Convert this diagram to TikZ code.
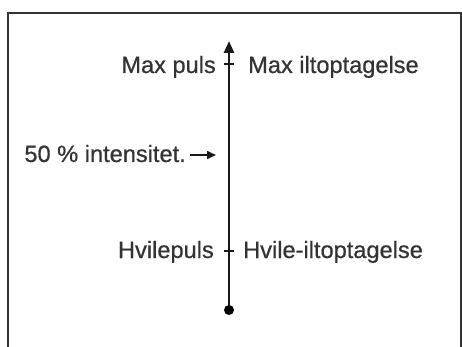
\documentclass[tikz,border=0pt]{standalone}
\usepackage{fontspec}
\setmainfont{Liberation Sans}
\newfontfamily\labelfont{Liberation Sans}[FakeBold=0.6]
\usetikzlibrary{arrows.meta}
\tikzset{
  lbl/.style={inner sep=0pt, font=\labelfont\fontsize{23.6}{27}\selectfont, text=black!80},
  axisline/.style={line width=2.6pt, black!90},
  tickmark/.style={line width=1.6pt, black!90},
  frameline/.style={line width=2.6pt, black!80},
}
\begin{document}
\begin{tikzpicture}[x=1pt, y=-1pt]
  \useasboundingbox (0,0) rectangle (462,347);
  \fill[white] (0,0) rectangle (462,347);
  \clip (0,0) rectangle (462,347);
  % open-bottom frame
  \draw[frameline] (8,360) -- (8,13) -- (461,13) -- (461,360);
  % vertical scale
  \coordinate (bot) at (229,310);
  \coordinate (top) at (229,41);
  \coordinate (tmax) at (229,64);
  \coordinate (trest) at (229,251);
  \draw[axisline, -{Triangle[width=10pt,length=12pt]}] (bot) -- (top);
  \fill[black] (bot) circle (5pt);
  \draw[tickmark] ([xshift=-5pt]tmax) -- ([xshift=5pt]tmax);
  \draw[tickmark] ([xshift=-5pt]trest) -- ([xshift=5pt]trest);
  % labels
  \node[lbl, anchor=base east] (maxp) at (216,73) {Max puls};
  \node[lbl, anchor=base west] (maxo) at (248,73) {Max iltoptagelse};
  \node[lbl, anchor=base east] (restp) at (214,258) {Hvilepuls};
  \node[lbl, anchor=base west] (resto) at (243,258) {Hvile-iltoptagelse};
  \node[lbl, anchor=base east] (mid) at (186,162) {50 \% intensitet.};
  \coordinate (midtip) at (216,155);
  \draw[line width=1.6pt, black!90, -{Triangle[width=8pt,length=9pt]}] (mid.east |- midtip) ++(4pt,0) -- (midtip);
\end{tikzpicture}
\end{document}
